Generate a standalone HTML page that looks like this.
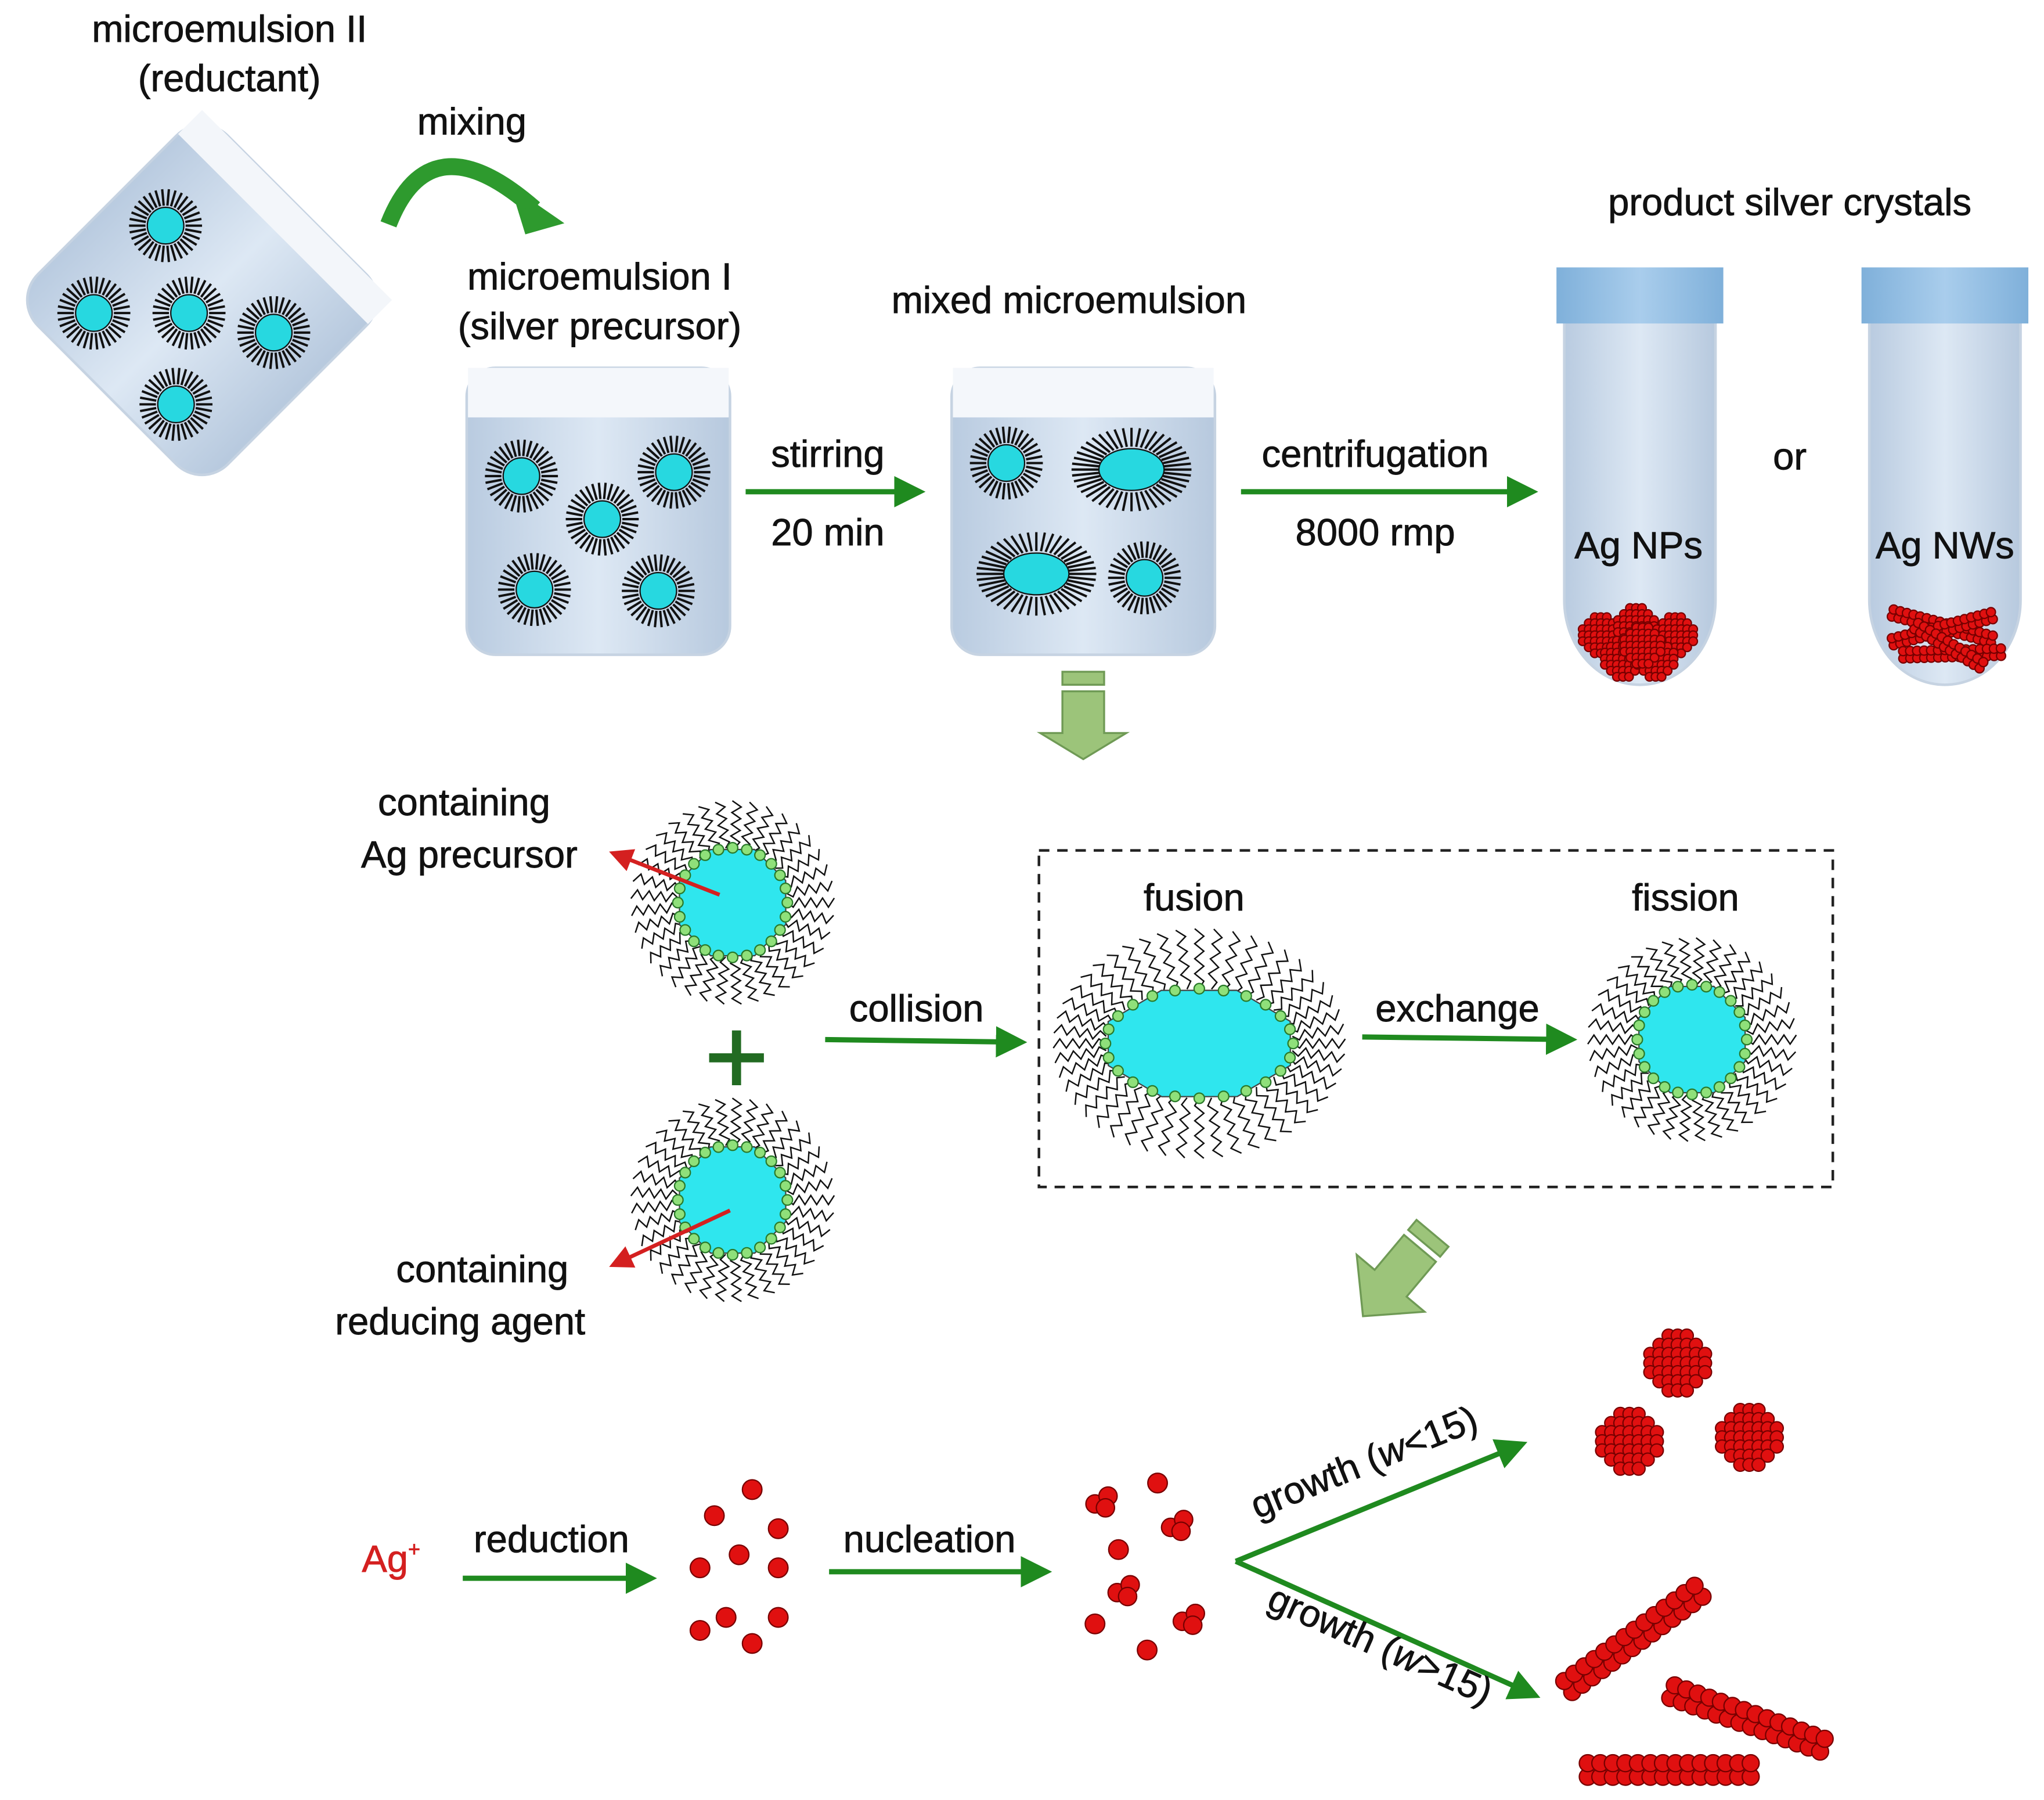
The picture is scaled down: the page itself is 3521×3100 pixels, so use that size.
<!DOCTYPE html>
<html><head><meta charset="utf-8"><style>
html,body{margin:0;padding:0;background:#fff}
svg{display:block}
text{font-family:"Liberation Sans",Arial,sans-serif;fill:#111}
</style></head><body>
<svg id="s" width="3521" height="3100" viewBox="0 0 1568 1380" preserveAspectRatio="none" xmlns="http://www.w3.org/2000/svg">
<defs>
<linearGradient id="liq" x1="0" y1="0" x2="1" y2="0"><stop offset="0" stop-color="#b9cbe0"/><stop offset=".5" stop-color="#dde8f4"/><stop offset="1" stop-color="#b7c9de"/></linearGradient>
<linearGradient id="cap" x1="0" y1="0" x2="1" y2="0"><stop offset="0" stop-color="#7fb0da"/><stop offset=".5" stop-color="#a9cdec"/><stop offset="1" stop-color="#7fb0da"/></linearGradient>
<marker id="ga" markerWidth="6" markerHeight="6" refX="5" refY="3" orient="auto" markerUnits="strokeWidth"><path d="M0,0 L6,3 L0,6 z" fill="#1f8a1f"/></marker>
<marker id="ra" markerWidth="6" markerHeight="6" refX="5" refY="3" orient="auto" markerUnits="strokeWidth"><path d="M0,0 L6,3 L0,6 z" fill="#d42020"/></marker>
</defs>
<g transform="rotate(45 155 230)">
<rect x="52" y="127" width="206" height="206" rx="28" fill="url(#liq)" stroke="#c6d3e2" stroke-width="2"/>
<rect x="52" y="127" width="206" height="26" fill="#f3f6fa"/>
</g>
<rect x="358" y="282" width="202" height="220" rx="22" fill="url(#liq)" stroke="#c6d3e2" stroke-width="2"/>
<rect x="359" y="282" width="200" height="38" fill="#f4f7fb"/>
<rect x="730" y="282" width="202" height="220" rx="22" fill="url(#liq)" stroke="#c6d3e2" stroke-width="2"/>
<rect x="731" y="282" width="200" height="38" fill="#f4f7fb"/>
<path d="M1200,240 V460 A58,65 0 0 0 1316,460 V240 Z" fill="url(#liq)" stroke="#c6d3e2" stroke-width="2"/>
<rect x="1194" y="205" width="128" height="43" fill="url(#cap)"/>
<path d="M1434,240 V460 A58,65 0 0 0 1550,460 V240 Z" fill="url(#liq)" stroke="#c6d3e2" stroke-width="2"/>
<rect x="1428" y="205" width="128" height="43" fill="url(#cap)"/>
<g id="dyn"></g>
<path d="M298,172 Q330,90 410,160" fill="none" stroke="#2e9a2e" stroke-width="13"/>
<path d="M397,150 L426,170 L405,176 Z" fill="#2e9a2e" stroke="#2e9a2e" stroke-width="6"/>
<g stroke="#1f8a1f" stroke-width="4" fill="none" marker-end="url(#ga)">
<line x1="572" y1="377" x2="706" y2="377"/>
<line x1="952" y1="377" x2="1176" y2="377"/>
<line x1="633" y1="797" x2="784" y2="799"/>
<line x1="1045" y1="795" x2="1206" y2="797"/>
<line x1="355" y1="1210" x2="500" y2="1210"/>
<line x1="636" y1="1205" x2="803" y2="1205"/>
<line x1="948" y1="1197" x2="1168" y2="1107"/>
<line x1="948" y1="1197" x2="1178" y2="1300"/>
</g>
<g stroke="#d42020" stroke-width="3" marker-end="url(#ra)"><line x1="552" y1="686" x2="470" y2="654"/><line x1="560" y1="928" x2="470" y2="970"/></g>
<path d="M815,515 H847 V525 H815 Z M815,530 H847 V562 H864 L831,582 L798,562 H815 Z" fill="#9cc47a" stroke="#6f9a55" stroke-width="1.5"/>
<g transform="translate(1070,980) rotate(40)"><path d="M-16,-45 H16 V-35 H-16 Z M-16,-30 H16 V5 H34 L0,38 L-34,5 H-16 Z" fill="#9cc47a" stroke="#6f9a55" stroke-width="1.5"/></g>
<path d="M565,790 V832 M544,811 H586" stroke="#226b22" stroke-width="7"/>
<rect x="797" y="652" width="609" height="258" fill="none" stroke="#222" stroke-width="2" stroke-dasharray="8,6"/>
<g font-size="29" text-anchor="middle" style="font-weight:500" stroke="#111" stroke-width="0.4">
<text x="176" y="32">microemulsion II</text><text x="176" y="70">(reductant)</text>
<text x="362" y="103">mixing</text>
<text x="460" y="222">microemulsion I</text><text x="460" y="260">(silver precursor)</text>
<text x="820" y="240">mixed microemulsion</text>
<text x="635" y="358">stirring</text><text x="635" y="418">20 min</text>
<text x="1055" y="358">centrifugation</text><text x="1055" y="418">8000 rmp</text>
<text x="1373" y="165">product silver crystals</text>
<text x="1373" y="360">or</text>
<text x="1257" y="428">Ag NPs</text><text x="1492" y="428">Ag NWs</text>
<text x="356" y="625">containing</text><text x="360" y="665">Ag precursor</text>
<text x="370" y="983">containing</text><text x="353" y="1023">reducing agent</text>
<text x="703" y="783">collision</text>
<text x="916" y="698">fusion</text><text x="1293" y="698">fission</text>
<text x="1118" y="783">exchange</text>
<text x="423" y="1190">reduction</text>
<text x="713" y="1190">nucleation</text>
<text x="300" y="1205" stroke="#d42020" style="fill:#d42020">Ag<tspan font-size="16" dy="-12">+</tspan></text>
<text transform="translate(1050,1130) rotate(-22)">growth (<tspan font-style="italic">w</tspan>&lt;15)</text>
<text transform="translate(1055,1270) rotate(24)">growth (<tspan font-style="italic">w</tspan>&gt;15)</text>
</g>
</svg>
<script>
var NS="http://www.w3.org/2000/svg",g=document.getElementById('dyn');
function el(t,a){var e=document.createElementNS(NS,t);for(var k in a)e.setAttribute(k,a[k]);g.appendChild(e);return e;}
function spiky(cx,cy,r){var d="";for(var i=0;i<34;i++){var a=i/34*6.283;d+="M"+(cx+Math.cos(a)*r*0.55)+","+(cy+Math.sin(a)*r*0.55)+"L"+(cx+Math.cos(a)*r)+","+(cy+Math.sin(a)*r);}
el('path',{d:d,stroke:'#111','stroke-width':1.8});el('circle',{cx:cx,cy:cy,r:r*0.5,fill:'#27d8e0',stroke:'#111','stroke-width':1});}
[[127,173],[72,240],[145,240],[210,255],[135,310],[400,365],[517,362],[462,398],[410,452],[505,453],[772,355],[878,443]].forEach(function(p){spiky(p[0],p[1],28)});
function fusedSmall(cx,cy){var d="";for(var i=0;i<44;i++){var a=i/44*6.283;var rx=46,ry=32;d+="M"+(cx+Math.cos(a)*rx*0.55)+","+(cy+Math.sin(a)*ry*0.55)+"L"+(cx+Math.cos(a)*rx)+","+(cy+Math.sin(a)*ry);}
el('path',{d:d,stroke:'#111','stroke-width':1.8});el('ellipse',{cx:cx,cy:cy,rx:25,ry:16,fill:'#27d8e0',stroke:'#111'});}
fusedSmall(868,360);fusedSmall(795,440);
function wavy(cx,cy,rx,ry,crx,cry){var d="";var n=Math.round((rx+ry)*0.24);for(var i=0;i<n;i++){var a=i/n*6.283,c=Math.cos(a),s=Math.sin(a);var x0=cx+c*crx,y0=cy+s*cry,x1=cx+c*rx,y1=cy+s*ry;var px=-s,py=c;d+="M"+x0+","+y0;for(var k=1;k<=8;k++){var t=k/8,w=(k%2?3.5:-3.5);d+="L"+(x0+(x1-x0)*t+px*w)+","+(y0+(y1-y0)*t+py*w);}}
el('path',{d:d,stroke:'#111','stroke-width':1.1,fill:'none'});
var pts=[];for(var i=0;i<8;i++){var a=i/8*6.283+0.39;pts.push((cx+Math.cos(a)*crx*1.05)+","+(cy+Math.sin(a)*cry*1.05));}
el('polygon',{points:pts.join(" "),fill:'#2fe6ee',stroke:'#444'});
for(var i=0;i<24;i++){var a=i/24*6.283;el('circle',{cx:cx+Math.cos(a)*crx,cy:cy+Math.sin(a)*cry,r:4,fill:'#8fe07a',stroke:'#2a7a2a','stroke-width':1});}}
wavy(562,692,78,78,42,42);wavy(562,920,78,78,42,42);wavy(920,800,112,88,72,42);wavy(1298,797,80,78,42,42);
function ball(x,y,r){el('circle',{cx:x,cy:y,r:r,fill:'#e01010',stroke:'#700','stroke-width':1});}
[[577,1142],[548,1162],[597,1172],[567,1192],[537,1202],[597,1202],[557,1240],[537,1250],[597,1240],[577,1260],[888,1137],[858,1188],[840,1245],[880,1265]].forEach(function(p){ball(p[0],p[1],7.5)});
[[845,1150],[903,1168],[862,1218],[912,1240]].forEach(function(p){ball(p[0]-5,p[1]+3,7);ball(p[0]+5,p[1]-3,7);ball(p[0]+3,p[1]+6,7);});
function cluster(cx,cy,r){for(var y=-3;y<=3;y++)for(var x=-3;x<=3;x++){if(x*x+y*y<=10)ball(cx+x*r*1.4,cy+y*r*1.4,r);}}
cluster(1287,1045,5);cluster(1250,1105,5);cluster(1342,1102,5);
[[1228,487],[1255,480],[1285,487],[1245,505],[1270,505],[1260,495]].forEach(function(p){cluster(p[0],p[1],3.3)});
function rod(x1,y1,x2,y2,r){var n=Math.round(Math.hypot(x2-x1,y2-y1)/(r*1.5)),dx=(x2-x1),dy=(y2-y1),L=Math.hypot(dx,dy),px=-dy/L*r*0.8,py=dx/L*r*0.8;for(var i=0;i<=n;i++){var t=i/n;ball(x1+dx*t+px,y1+dy*t+py,r);ball(x1+dx*t-px,y1+dy*t-py,r);}}
rod(1203,1293,1303,1220,6.5);rod(1283,1297,1398,1338,6.5);rod(1218,1357,1343,1357,6.5);
rod(1452,470,1528,490,3.5);rod(1452,492,1528,472,3.5);rod(1460,502,1535,500,3.5);rod(1470,480,1520,510,3.5);
</script>
</body></html>
